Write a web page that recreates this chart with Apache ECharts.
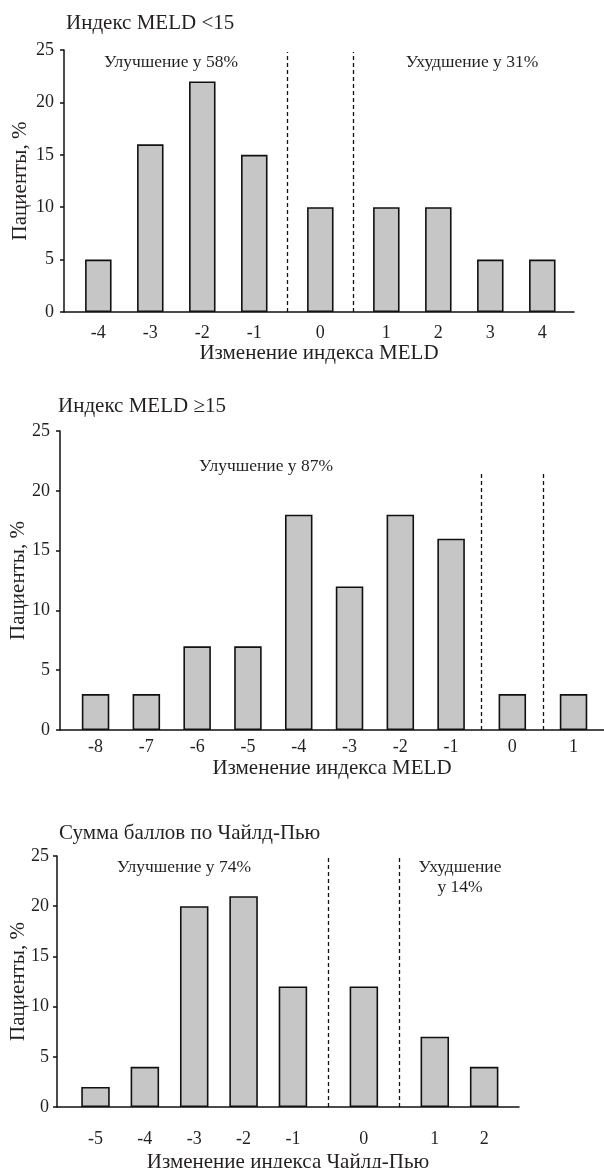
<!DOCTYPE html>
<html>
<head>
<meta charset="utf-8">
<script src="https://cdn.jsdelivr.net/npm/echarts@6/dist/echarts.min.js"></script>
<style>
html,body{margin:0;padding:0;background:#fff;}
#c{width:604px;height:1168px;}
</style>
</head>
<body>
<div id="c"></div>
<script>
// ---- data ----
const titles = ['Индекс MELD <15', 'Индекс MELD ≥15', 'Сумма баллов по Чайлд-Пью'];
const xNames = ['Изменение индекса MELD', 'Изменение индекса MELD', 'Изменение индекса Чайлд-Пью'];
const yName = 'Пациенты, %';
const cats1 = ['-4', '-3', '-2', '-1', '0', '1', '2', '3', '4'];
const vals1 = [5, 16, 22, 15, 10, 10, 10, 5, 5];
const cats2 = ['-8', '-7', '-6', '-5', '-4', '-3', '-2', '-1', '0', '1'];
const vals2 = [3, 3, 7, 7, 18, 12, 18, 16, 3, 3];
const cats3 = ['-5', '-4', '-3', '-2', '-1', '0', '1', '2'];
const vals3 = [2, 4, 20, 21, 12, 12, 7, 4];
const yTicks = [0, 5, 10, 15, 20, 25];
const notes1 = ['Улучшение у 58%', 'Ухудшение у 31%'];
const notes2 = ['Улучшение у 87%'];
const notes3 = ['Улучшение у 74%', 'Ухудшение\nу 14%'];

// ---- layout ----
const FONT = '"Liberation Serif", "DejaVu Serif", serif';
const TXT = '#231f20';
const panels = [
  {cats: cats1, vals: vals1, splits: [4, 5], gap: 0.27, xmin: -0.66, xmax: 9.15, dashTop: 24.8,
   grid: {left: 64, top: 50, width: 510, height: 262}, barW: 26.5, lblMargin: 12, nameGap: 31, yNameGap: 33, yLblMargin: 10,
   title: {left: 61, top: 8}, notes: notes1, notePos: [[171, 62], [472, 62]]},
  {cats: cats2, vals: vals2, splits: [8, 9], gap: 0.205, xmin: -0.70, xmax: 10.01, dashTop: 21.6,
   grid: {left: 60, top: 431, width: 544, height: 299}, barW: 27.5, lblMargin: 8, nameGap: 28, yNameGap: 31, yLblMargin: 10,
   title: {left: 53, top: 391}, notes: notes2, notePos: [[266, 466]]},
  {cats: cats3, vals: vals3, splits: [5, 6], gap: 0.437, xmin: -0.78, xmax: 8.58, dashTop: 25,
   grid: {left: 57, top: 856, width: 462, height: 251}, barW: 28.5, lblMargin: 23, nameGap: 45, yNameGap: 28, yLblMargin: 8,
   title: {left: 54, top: 818}, notes: notes3, notePos: [[184, 867], [460, 877]]}
];

const option = {
  animation: false,
  backgroundColor: '#fff',
  title: [], grid: [], xAxis: [], yAxis: [], series: [], graphic: []
};

panels.forEach((p, k) => {
  // x positions: category index plus extra space at each dashed separator
  const pos = p.cats.map((c, i) => i + p.gap * p.splits.filter(s => s <= i).length);
  const dashX = p.splits.map(s => (pos[s - 1] + pos[s]) / 2);

  option.title.push({
    text: titles[k], left: p.title.left, top: p.title.top,
    textStyle: {fontFamily: FONT, fontSize: 21, fontWeight: 'normal', color: TXT}
  });
  option.grid.push(Object.assign({containLabel: false, outerBoundsMode: 'none'}, p.grid));
  option.xAxis.push({
    type: 'value', gridIndex: k, min: p.xmin, max: p.xmax,
    axisLine: {show: true, onZero: false, lineStyle: {color: '#111', width: 1.5}},
    axisTick: {show: false},
    splitLine: {show: false},
    axisLabel: {
      customValues: pos, margin: p.lblMargin,
      fontFamily: FONT, fontSize: 18, color: TXT,
      formatter: v => { const i = pos.findIndex(q => Math.abs(q - v) < 1e-6); return i >= 0 ? p.cats[i] : ''; }
    },
    name: xNames[k], nameLocation: 'middle', nameGap: p.nameGap, nameMoveOverlap: false,
    nameTextStyle: {fontFamily: FONT, fontSize: 21, color: TXT}
  });
  option.yAxis.push({
    type: 'value', gridIndex: k, min: 0, max: 25, interval: 5,
    axisLine: {show: true, onZero: false, lineStyle: {color: '#111', width: 1.5}},
    axisTick: {show: true, length: 4, lineStyle: {color: '#111', width: 1.5}},
    splitLine: {show: false},
    axisLabel: {margin: p.yLblMargin, fontFamily: FONT, fontSize: 18, color: TXT,
      formatter: v => yTicks.includes(v) ? String(v) : ''},
    name: yName, nameLocation: 'middle', nameRotate: 90, nameGap: p.yNameGap, nameMoveOverlap: false,
    nameTextStyle: {fontFamily: FONT, fontSize: 21, color: TXT}
  });
  option.series.push({
    type: 'bar', xAxisIndex: k, yAxisIndex: k, clip: false,
    barWidth: p.barW,
    data: p.vals.map((v, i) => [pos[i], v]),
    itemStyle: {color: '#c6c6c6', borderColor: '#111', borderWidth: 1.6},
    markLine: {
      silent: true, symbol: 'none', label: {show: false},
      lineStyle: {color: '#111', width: 1.3, type: [4, 3]},
      data: dashX.map(x => [{coord: [x, 0]}, {coord: [x, p.dashTop]}])
    }
  });
  p.notes.forEach((t, j) => {
    option.graphic.push({
      type: 'text', x: p.notePos[j][0], y: p.notePos[j][1],
      style: {text: t, fontFamily: FONT, fontSize: 17.5, fill: TXT, align: 'center', verticalAlign: 'middle', lineHeight: 20}
    });
  });
});

const chart = echarts.init(document.getElementById('c'), null, {renderer: 'canvas'});
chart.setOption(option);
</script>
</body>
</html>
